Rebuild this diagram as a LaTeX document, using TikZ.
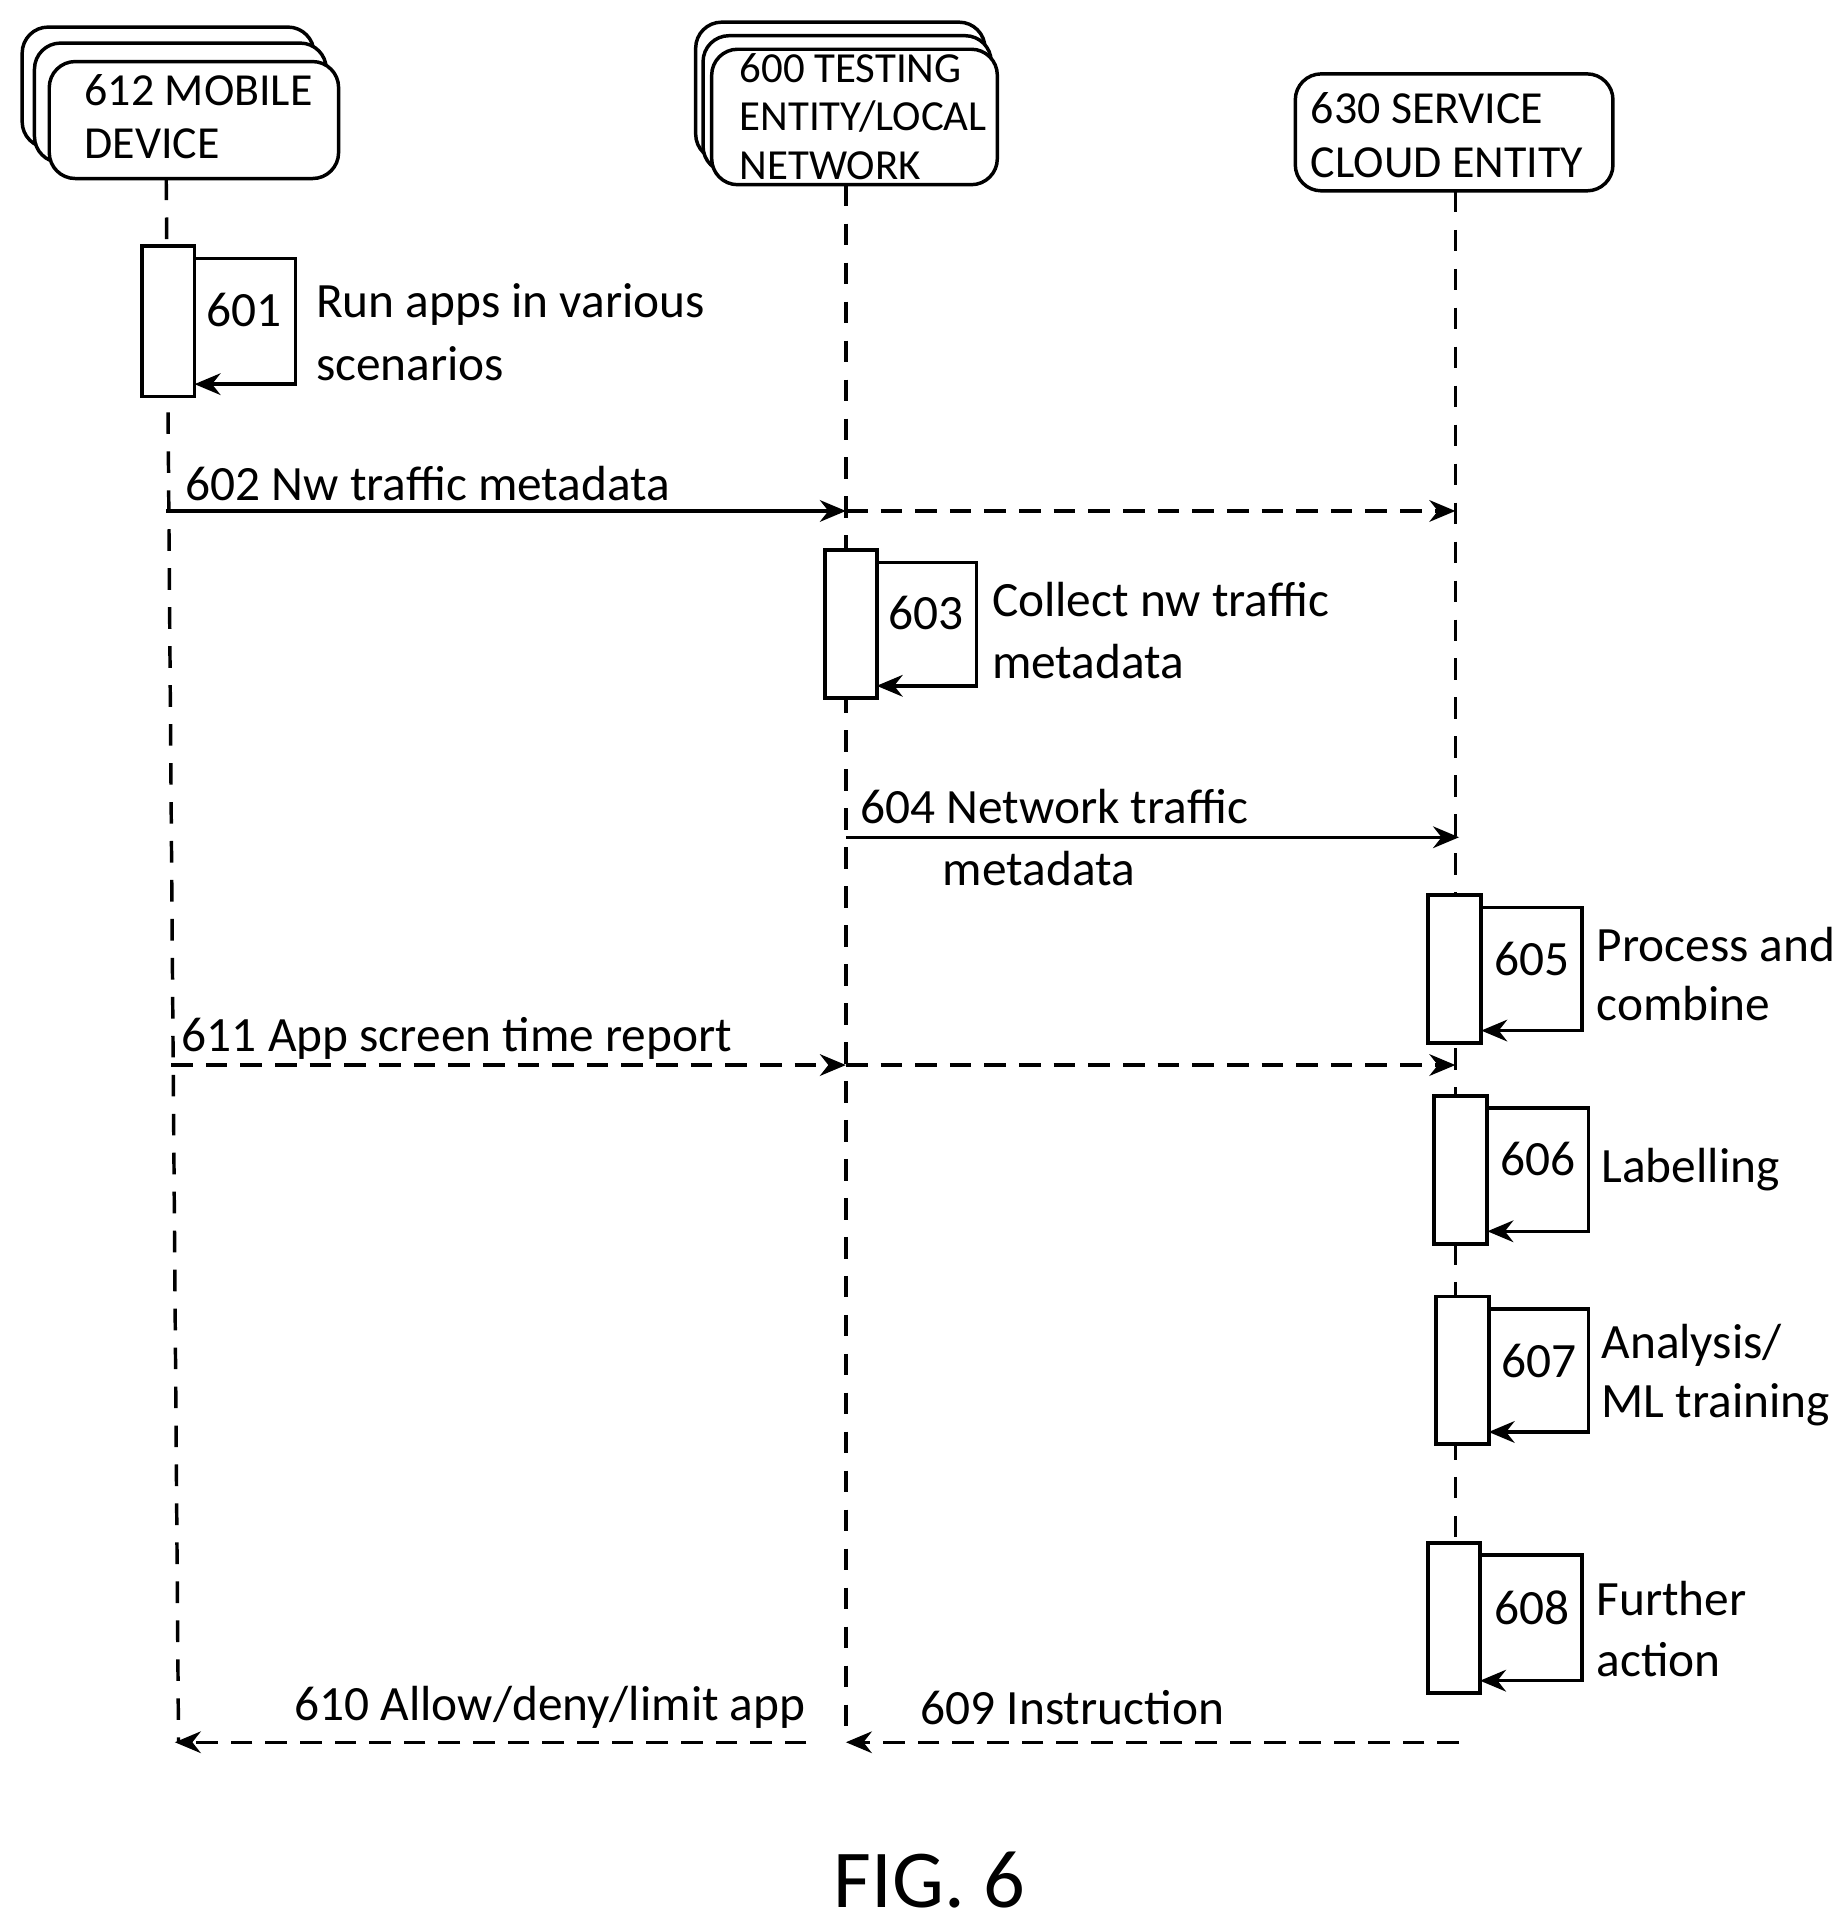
\documentclass[tikz,border=0pt]{standalone}
\usepackage{fontspec}
\setmainfont{Carlito}
\usetikzlibrary{arrows.meta,positioning,calc}
\tikzset{
  lbl/.style={anchor=west,inner sep=0pt,align=left,font=\fontsize{11.4}{16}\selectfont},
  hlbl/.style={lbl,font=\fontsize{10.6}{15}\selectfont},
  head/.style={draw,rounded corners=6pt,fill=white,line width=0.8pt},
  life/.style={dashed,line width=0.8pt,dash pattern=on 5pt off 4pt},
  act/.style={draw,fill=white,line width=0.9pt},
  msg/.style={-{Stealth[length=6pt,width=5pt]},line width=0.8pt},
  dmsg/.style={msg,dash pattern=on 5pt off 3pt}
}
\newcommand{\selfloop}[6]{% name, left x, top y, right x, bottom y, loop x
  \draw[act] (#2,#3) rectangle (#4,#5);
  \coordinate (#1) at (#4,#3);
  \draw[msg] ($(#1)+(0,10)$) -| (#6,#5-10) -- (#4,#5-10);
}
\begin{document}
\begin{tikzpicture}[x=0.01cm,y=-0.01cm]
\useasboundingbox (0,0) rectangle (1500,1561);
% heads
\draw[head] (18,22) rectangle (255,120);
\draw[head] (28,35) rectangle (265,132);
\draw[head] (40,50) rectangle (275,145);
\coordinate (mob) at (135,145);
\node[hlbl] at (68,73) {612 MOBILE};
\node[hlbl] at (68,117) {DEVICE};
\draw[head] (565,18) rectangle (800,130);
\draw[head] (571,29) rectangle (805,140);
\draw[head] (578,40) rectangle (810,150);
\coordinate (tst) at (687,150);
\node[lbl,font=\fontsize{9.9}{14}\selectfont] at (600,55) {600 TESTING};
\node[lbl,font=\fontsize{9.9}{14}\selectfont] at (600,95) {ENTITY/LOCAL};
\node[lbl,font=\fontsize{9.9}{14}\selectfont] at (600,135) {NETWORK};
\draw[head] (1052,60) rectangle (1310,155);
\coordinate (svc) at (1182,155);
\node[hlbl] at (1064,88) {630 SERVICE};
\node[hlbl] at (1064,132) {CLOUD ENTITY};
% lifelines
\coordinate (mE) at (145,1415);
\coordinate (tE) at (687,1415);
\coordinate (sE) at (1182,1380);
\draw[life] (mob) -- (mE);
\draw[life] (tst) -- (tE);
\draw[life] (svc) -- (sE);
% activations
\selfloop{a601}{115}{200}{158}{322}{240}
\node at (198,252) {\fontsize{11.4}{16}\selectfont 601};
\node[lbl] at (256,247) {Run apps in various};
\node[lbl] at (256,295) {scenarios};
\selfloop{a603}{670}{447}{712}{567}{793}
\node at (752,498) {\fontsize{11.4}{16}\selectfont 603};
\node[lbl] at (805,487) {Collect nw traffic};
\node[lbl] at (805,537) {metadata};
\selfloop{a605}{1160}{727}{1203}{847}{1285}
\node at (1244,779) {\fontsize{11.4}{16}\selectfont 605};
\node[lbl] at (1296,767) {Process and};
\node[lbl] at (1296,815) {combine};
\selfloop{a606}{1165}{890}{1208}{1010}{1290}
\node at (1249,941) {\fontsize{11.4}{16}\selectfont 606};
\node[lbl] at (1300,950) {Labelling};
\selfloop{a607}{1166}{1053}{1209}{1173}{1290}
\node at (1250,1105) {\fontsize{11.4}{16}\selectfont 607};
\node[lbl] at (1300,1093) {Analysis/};
\node[lbl] at (1300,1141) {ML training};
\selfloop{a608}{1160}{1253}{1202}{1375}{1285}
\node at (1244,1306) {\fontsize{11.4}{16}\selectfont 608};
\node[lbl] at (1296,1298) {Further};
\node[lbl] at (1296,1348) {action};
% messages
\coordinate (m602) at (135,415); \coordinate (t602) at (687,415); \coordinate (s602) at (1182,415);
\draw[msg] (m602) -- (t602);
\draw[dmsg] (t602) -- (s602);
\node[lbl] at (150,393) {602 Nw traffic metadata};
\coordinate (t604) at (687,680); \coordinate (s604) at (1185,680);
\draw[msg] (t604) -- (s604);
\node[lbl] at (698,655) {604 Network traffic};
\node[lbl] at (765,705) {metadata};
\coordinate (m611) at (139,865); \coordinate (t611) at (687,865); \coordinate (s611) at (1182,865);
\draw[dmsg] (m611) -- (t611);
\draw[dmsg] (t611) -- (s611);
\node[lbl] at (147,843) {611 App screen time report};
\coordinate (s609) at (1185,1415); \coordinate (t609) at (687,1415);
\draw[dmsg] (s609) -- (t609);
\node[lbl] at (747,1387) {609 Instruction};
\coordinate (t610) at (655,1415); \coordinate (m610) at (142,1415);
\draw[dmsg] (t610) -- (m610);
\node[lbl,anchor=east] at (655,1387) {610 Allow/deny/limit app};
\node (fig) at (755,1527) {\fontsize{19}{24}\selectfont FIG. 6};
\end{tikzpicture}
\end{document}
